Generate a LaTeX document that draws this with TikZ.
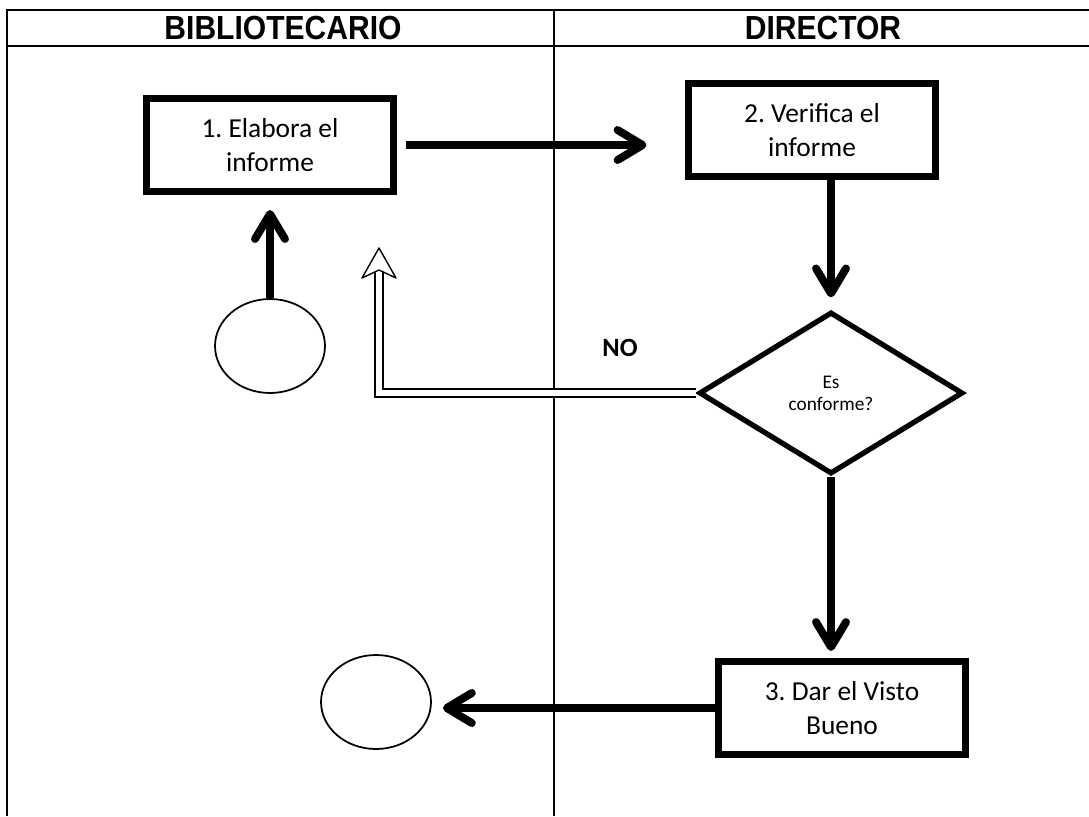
\documentclass[tikz,border=0pt]{standalone}
\usepackage{fontspec}
\setmainfont{Carlito}
\newfontfamily\headfont[FakeStretch=0.9]{Liberation Sans}
\usepackage{tikz}
\usetikzlibrary{shapes.geometric, arrows.meta, positioning, calc}

\begin{document}
\begin{tikzpicture}[
    x=0.02cm, y=-0.02cm,
    lane/.style={line width=0.9pt},
    head/.style={font=\headfont\bfseries\fontsize{19}{21}\selectfont},
    task/.style={rectangle, draw, line width=4pt, minimum width=4.96cm, minimum height=1.86cm,
        align=center, font=\frenchspacing\fontsize{15.6}{19.5}\selectfont},
    decide/.style={diamond, draw, line width=3pt, minimum width=5.28cm, minimum height=3.24cm,
        inner sep=0pt, align=center, font=\fontsize{11}{12.5}\selectfont},
    term/.style={ellipse, draw, line width=1pt, minimum width=2.2cm, minimum height=1.88cm},
    arr/.style={-{Straight Barb[length=0.5cm, width=0.6cm, line cap=round, line join=round]},
        line width=4.5pt},
    back/.style={double=white, double distance=0.13cm, line width=0.8pt},
]
\useasboundingbox (0,0) rectangle (1089,816);
\draw[lane] (7,816) -- (7,10) -- (1089,10);
\draw[lane] (7,46) -- (1089,46);
\draw[lane] (554,10) -- (554,816);
\node[head] (hbib) at (283,28) {BIBLIOTECARIO};
\node[head] (hdir) at (823,28) {DIRECTOR};

\node[task] (elab) at (270,145) {1. Elabora el\\informe};
\node[task] (verif) at (812,130) {2. Verifica el\\informe};
\node[decide] (conf) at (831,393) {Es\\conforme?};
\node[task] (visto) at (842,708) {3. Dar el Visto\\Bueno};
\node[term] (ini) at (270,346) {};
\node[term] (fin) at (376,702) {};
\node[font=\fontsize{15}{18}\selectfont\bfseries] (no) at (620,348) {NO};

\draw[arr, shorten >=0.3cm] (ini.north) -- (elab.south);
\draw[arr, shorten <=0.18cm, shorten >=0.76cm] (elab.east) -- (elab.east -| verif.west);
\draw[arr, shorten >=0.24cm] (conf.north |- verif.south) -- (conf.north);
\draw[arr, shorten >=0.14cm] (conf.south) -- (conf.south |- visto.north);
\draw[arr, shorten >=0.22cm] (visto.west) -- (visto.west -| fin.east);

\coordinate (noTip) at (379,248);
\coordinate (noBase) at (379,272);
\draw[back] (conf.west) -| (noBase);
\draw[line width=0.8pt, fill=white, line join=round] (noTip) -- ++(17,30) -- ++(-17,-8) -- ++(-17,8) -- cycle;
\end{tikzpicture}
\end{document}
